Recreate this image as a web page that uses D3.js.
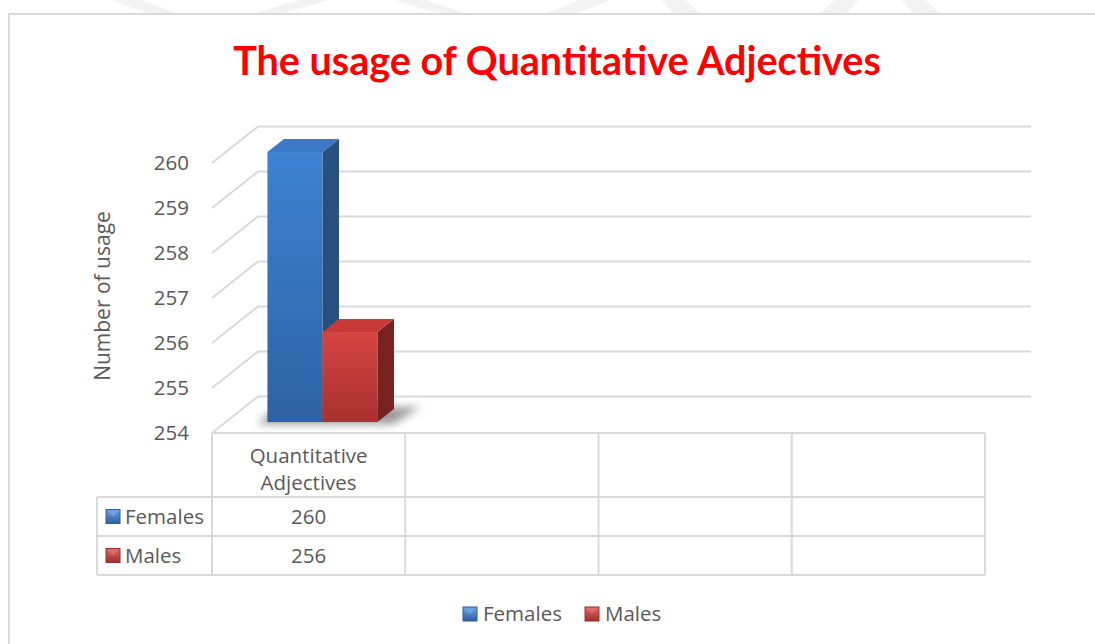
<!DOCTYPE html>
<html>
<head>
<meta charset="utf-8">
<script src="https://cdn.jsdelivr.net/npm/d3@7"></script>
<style>
  html, body { margin: 0; padding: 0; background: #ffffff; }
  svg { display: block; }
  text { font-family: "Open Sans", "Lato", sans-serif; }
</style>
</head>
<body>
<svg id="chart" width="1095" height="644"></svg>
<script>
// ---- data ----
const title = "The usage of Quantitative Adjectives";
const yAxisTitle = "Number of usage";
const categories = ["Quantitative Adjectives"];
const columnSlots = 4;               // table has four columns, only the first is filled
const seriesNames = ["Females", "Males"];
const femalesValues = [260];
const malesValues = [256];
const yTicks = [254, 255, 256, 257, 258, 259, 260];

const series = [
  { name: seriesNames[0], values: femalesValues,
    front: ["#3d82d3", "#2e62a4"], side: "#25507f", top: "#3b78c6",
    key: ["#2f5f9e", "#6ea2e0"] },
  { name: seriesNames[1], values: malesValues,
    front: ["#d54442", "#a8302e"], side: "#772220", top: "#c83a38",
    key: ["#9e2e2c", "#e06a68"] }
];

const FS = 20.5;      // body text size
const TXT = "#595959";

const svg = d3.select("#chart");
const defs = svg.append("defs");

// ---- faint page watermark above the chart frame ----
const wm = svg.append("g").attr("fill", "#f3f3f3");
[[110, 180], [250, 330], [395, 470], [545, 610]].forEach(([a, b], i) => {
  wm.append("polygon").attr("points",
    i % 2 === 0 ? `${a},0 ${a + 30},0 ${b},14 ${b - 30},14`
                : `${b - 30},0 ${b},0 ${a + 30},14 ${a},14`);
});
[[660, 760], [780, 860], [900, 980]].forEach(([a, b], i) => {
  wm.append("polygon").attr("points",
    i % 2 === 0 ? `${a},0 ${a + 25},0 ${a + 40},14 ${a + 15},14`
                : `${b - 25},0 ${b},0 ${b - 15},14 ${b - 40},14`);
});

// chart frame
svg.append("rect").attr("x", 9).attr("y", 14).attr("width", 1100).attr("height", 640)
  .attr("fill", "#ffffff").attr("stroke", "#d9d9d9").attr("stroke-width", 2);

// ---- title ----
const titleText = svg.append("text")
  .attr("x", 557).attr("y", 75).attr("text-anchor", "middle")
  .attr("fill", "#ff0000").attr("font-weight", 700).attr("font-size", 33)
  .style("font-family", "Lato, 'Open Sans', sans-serif")
  .text(title);
{
  const w = titleText.node().getComputedTextLength();
  titleText.attr("font-size", 33 * 648 / w);
}

// ---- scales ----
const plotLeft = 212, plotRight = 985;
const y = d3.scaleLinear().domain([d3.min(yTicks), d3.max(yTicks)]).range([433, 163]);
const x = d3.scaleBand().domain(d3.range(columnSlots)).range([plotLeft, plotRight]);
// depth: 0 = front plane, 1 = back wall
const depthX = d3.scaleLinear().domain([0, 1]).range([0, 46]);
const depthY = d3.scaleLinear().domain([0, 1]).range([0, -36.5]);
const P = (px, v, z) => [px + depthX(z), y(v) + depthY(z)];
const pts = arr => arr.map(p => p.join(",")).join(" ");

// ---- walls / gridlines ----
const grid = svg.append("g").attr("stroke", "#d9d9d9").attr("stroke-width", 2).attr("fill", "none");
yTicks.forEach(t => {
  const a = P(plotLeft, t, 0), b = P(plotLeft, t, 1), c = P(plotRight, t, 1);
  grid.append("polyline").attr("points", pts([a, b, c]));
});

// ---- y axis labels ----
svg.append("g").selectAll("text").data(yTicks).join("text")
  .attr("x", 189).attr("y", d => y(d) + 7)
  .attr("text-anchor", "end").attr("fill", TXT).attr("font-size", FS)
  .text(d => d);

svg.append("text")
  .attr("transform", "translate(110,296) rotate(-90)")
  .attr("text-anchor", "middle").attr("fill", TXT).attr("font-size", 21)
  .text(yAxisTitle);

// ---- bars ----
const shadowBlur = defs.append("filter").attr("id", "shadowBlur")
  .attr("x", "-30%").attr("y", "-100%").attr("width", "160%").attr("height", "300%");
shadowBlur.append("feGaussianBlur").attr("stdDeviation", 4);

series.forEach((s, i) => {
  const g = defs.append("linearGradient").attr("id", "front" + i)
    .attr("x1", 0).attr("y1", 0).attr("x2", 0).attr("y2", 1);
  g.append("stop").attr("offset", "0%").attr("stop-color", s.front[0]);
  g.append("stop").attr("offset", "100%").attr("stop-color", s.front[1]);
  const k = defs.append("linearGradient").attr("id", "key" + i)
    .attr("x1", 0).attr("y1", 0).attr("x2", 0).attr("y2", 1);
  k.append("stop").attr("offset", "0%").attr("stop-color", s.key[1]);
  k.append("stop").attr("offset", "100%").attr("stop-color", s.key[0]);
});

const barW = 55, z0 = 0.3, z1 = 0.66;
const barsG = svg.append("g");
const shadowG = barsG.append("g").attr("filter", "url(#shadowBlur)");

categories.forEach((cat, ci) => {
  const cx = x(ci) + x.bandwidth() / 2;
  const start = cx - series.length * barW / 2;
  const base = d3.min(yTicks);
  // floor shadow cast to the right of the bars
  const sl = start - 8, sr = start + series.length * barW + 24;
  shadowG.append("polygon")
    .attr("points", pts([P(sl, base, z1 + 0.05), P(sr, base, z1 + 0.05), P(sr - 6, base, z0 - 0.05), P(sl, base, z0 - 0.05)]))
    .attr("fill", "#7f7f7f").attr("opacity", 0.8);

  series.forEach((s, si) => {
    const v = s.values[ci];
    const xl = start + si * barW, xr = xl + barW;
    const g = barsG.append("g");
    // right side face
    g.append("polygon")
      .attr("points", pts([P(xr, base, z0), P(xr, base, z1), P(xr, v, z1), P(xr, v, z0)]))
      .attr("fill", s.side);
    // top face
    g.append("polygon")
      .attr("points", pts([P(xl, v, z0), P(xl, v, z1), P(xr, v, z1), P(xr, v, z0)]))
      .attr("fill", s.top);
    // front face
    const f0 = P(xl, v, z0), f1 = P(xr, base, z0);
    g.append("rect")
      .attr("x", f0[0]).attr("y", f0[1]).attr("width", f1[0] - f0[0]).attr("height", f1[1] - f0[1])
      .attr("fill", `url(#front${si})`);
  });
});

// ---- data table ----
const tbl = svg.append("g").attr("stroke", "#d9d9d9").attr("stroke-width", 2).attr("fill", "none");
const rowY = [433, 497, 536, 575];
const keyLeft = 97;
tbl.append("line").attr("x1", plotLeft).attr("x2", plotRight).attr("y1", rowY[0]).attr("y2", rowY[0]);
rowY.slice(1).forEach(ry =>
  tbl.append("line").attr("x1", keyLeft).attr("x2", plotRight).attr("y1", ry).attr("y2", ry));
d3.range(columnSlots + 1).forEach(i => {
  const cx = i < columnSlots ? x(i) : plotRight;
  tbl.append("line").attr("x1", cx).attr("x2", cx).attr("y1", rowY[0]).attr("y2", rowY[3]);
});
tbl.append("line").attr("x1", keyLeft).attr("x2", keyLeft).attr("y1", rowY[1]).attr("y2", rowY[3]);

// category header (wrapped onto two lines)
categories.forEach((cat, ci) => {
  const t = svg.append("text").attr("text-anchor", "middle").attr("fill", TXT).attr("font-size", FS);
  const words = cat.split(" ");
  words.forEach((w, wi) => {
    t.append("tspan").attr("x", x(ci) + x.bandwidth() / 2).attr("y", 463 + wi * 27).text(w);
  });
});

// legend key glyph: square with a lighter bevel triangle at the top
function keyGlyph(parent, px, py, s, i) {
  const g = parent.append("g");
  g.append("rect").attr("x", px).attr("y", py).attr("width", 14).attr("height", 14)
    .attr("fill", `url(#key${i})`);
  g.append("polygon").attr("points", pts([[px, py], [px + 14, py], [px + 7, py + 7]]))
    .attr("fill", s.key[1]).attr("opacity", 0.9);
  g.append("rect").attr("x", px).attr("y", py).attr("width", 14).attr("height", 14)
    .attr("fill", "none").attr("stroke", s.key[0]).attr("stroke-width", 1);
}

series.forEach((s, si) => {
  const cy = (rowY[si + 1] + rowY[si + 2]) / 2;
  keyGlyph(svg, 106, cy - 7, s, si);
  svg.append("text").attr("x", 125).attr("y", cy + 7).attr("fill", TXT).attr("font-size", FS)
    .text(s.name);
  categories.forEach((cat, ci) => {
    svg.append("text").attr("x", x(ci) + x.bandwidth() / 2).attr("y", cy + 7)
      .attr("text-anchor", "middle").attr("fill", TXT).attr("font-size", FS)
      .text(s.values[ci]);
  });
});

// ---- bottom legend ----
const legendX = [463, 585];
series.forEach((s, si) => {
  keyGlyph(svg, legendX[si], 607, s, si);
  svg.append("text").attr("x", legendX[si] + 20).attr("y", 621).attr("fill", TXT).attr("font-size", FS)
    .text(s.name);
});
</script>
</body>
</html>
